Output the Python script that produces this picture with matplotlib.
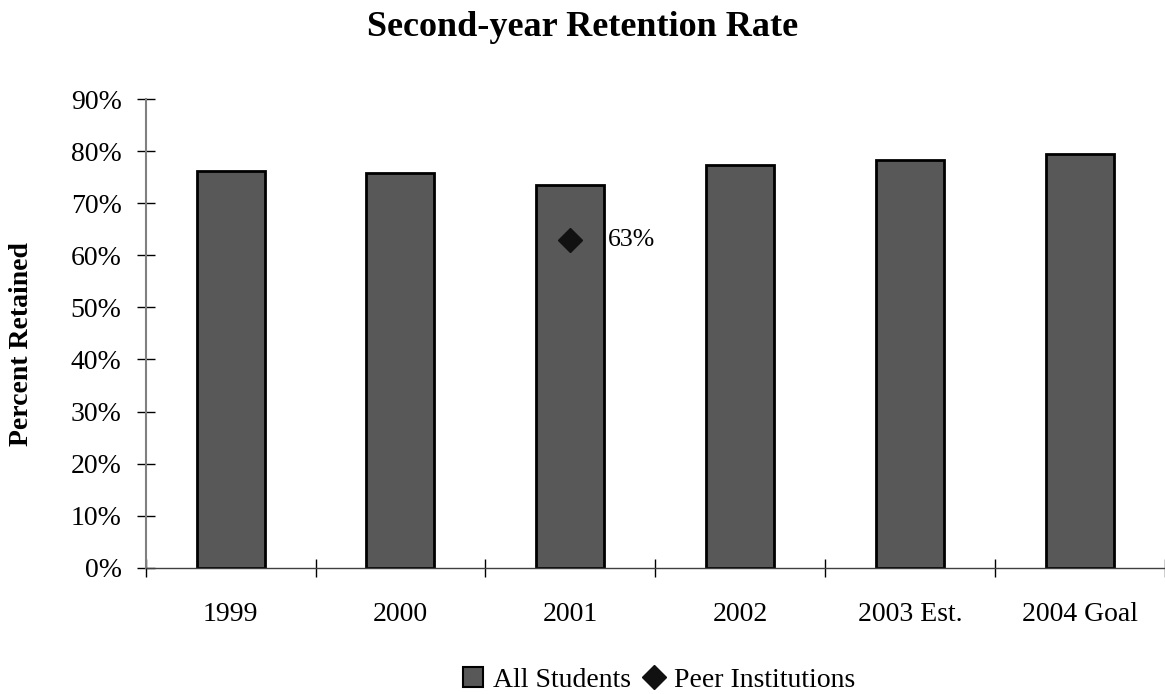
import matplotlib
matplotlib.use('Agg')
import matplotlib.pyplot as plt
from matplotlib.patches import Patch
from matplotlib.lines import Line2D

years = ['1999', '2000', '2001', '2002', '2003 Est.', '2004 Goal']
all_students = [0.762, 0.759, 0.735, 0.773, 0.783, 0.794]
peer_year = '2001'
peer_value = 0.63

plt.rcParams['font.family'] = ['Liberation Serif', 'DejaVu Serif']

fig = plt.figure(figsize=(11.65, 6.94), dpi=100)
ax = fig.add_axes([0.125, 0.182, 0.875, 0.675])

x = list(range(len(years)))
ax.bar(x, all_students, width=0.4, color='#585858', edgecolor='black', linewidth=2, zorder=2)

px = years.index(peer_year)
ax.plot([px], [peer_value], marker='D', color='#111111', markersize=12, linestyle='none', zorder=3)
ax.text(px + 0.22, peer_value, '%d%%' % round(peer_value * 100), fontsize=18.5,
        va='center', ha='left')

ax.set_xlim(-0.5, len(years) - 0.5)
ax.set_ylim(0, 0.9)
ax.set_yticks([i / 10 for i in range(10)])
ax.set_yticklabels(['%d%%' % (i * 10) for i in range(10)], fontsize=20)

# category labels centred, tick marks on the boundaries
ax.set_xticks(x)
ax.set_xticklabels(years, fontsize=20)
ax.tick_params(axis='x', length=0, pad=25)
ax.set_xticks([i - 0.5 for i in range(len(years) + 1)], minor=True)
ax.tick_params(axis='x', which='minor', direction='inout', length=13.5, width=1, color='black')
ax.tick_params(axis='y', direction='inout', length=12.7, width=1, color='black', pad=11)

for side in ['top', 'right']:
    ax.spines[side].set_visible(False)
ax.spines['left'].set_color('#808080')
ax.spines['left'].set_linewidth(1.5)
ax.spines['bottom'].set_color('#404040')
ax.spines['bottom'].set_linewidth(1)

fig.text(22 / 1165, 0.504, 'Percent Retained', fontsize=20, fontweight='bold',
         rotation=90, ha='center', va='center')
fig.text(0.5, 0.96, 'Second-year Retention Rate', fontsize=26, fontweight='bold',
         ha='center', va='center')

handles = [Patch(facecolor='#585858', edgecolor='black', linewidth=1.5),
           Line2D([], [], marker='D', color='#111111', markersize=12, linestyle='none')]
fig.legend(handles, ['All Students', 'Peer Institutions'], loc='center',
           bbox_to_anchor=(0.566, 0.02), ncol=2, frameon=False, fontsize=20,
           handlelength=0.7, handleheight=0.7, handletextpad=0.36, columnspacing=0.5)

fig.savefig('out.png', dpi=100)
